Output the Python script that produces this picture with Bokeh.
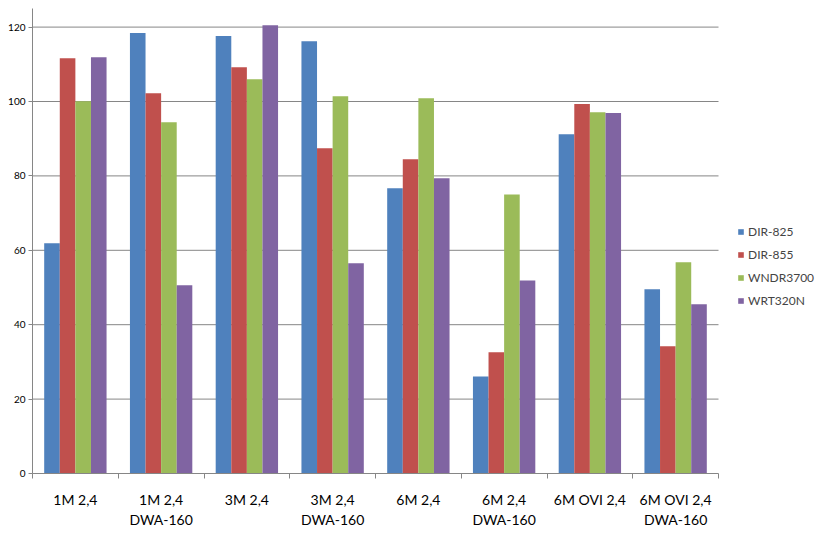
import numpy as np
from bokeh.plotting import figure
from bokeh.models import Range1d, FixedTicker, Legend, LegendItem
from bokeh.embed import file_html
from bokeh.resources import INLINE

categories = ["1M 2,4", "1M 2,4\nDWA-160", "3M 2,4", "3M 2,4\nDWA-160",
              "6M 2,4", "6M 2,4\nDWA-160", "6M OVI 2,4", "6M OVI 2,4\nDWA-160"]
series_names = ["DIR-825", "DIR-855", "WNDR3700", "WRT320N"]
dir825 = [61.9, 118.4, 117.6, 116.2, 76.7, 26.1, 91.2, 49.5]
dir855 = [111.6, 102.2, 109.2, 87.4, 84.5, 32.6, 99.3, 34.2]
wndr3700 = [100.1, 94.4, 106.0, 101.4, 100.9, 75.0, 97.1, 56.8]
wrt320n = [111.9, 50.6, 120.5, 56.5, 79.4, 51.9, 96.9, 45.5]
y_ticks = [0, 20, 40, 60, 80, 100, 120]

series = [dir825, dir855, wndr3700, wrt320n]
colors = ["#4F81BD", "#C0504D", "#9BBB59", "#8064A2"]
FONT = "Lato"
GRID = "#868686"

n = len(categories)
W, H = 817, 535
LEFT, TOP, BOTTOM = 32, 8, 62
FW = W - LEFT
CAT_PX = 85.75
x_end = FW / CAT_PX

p = figure(width=W, height=H, output_backend="svg", toolbar_location=None,
           x_range=Range1d(0, x_end), y_range=Range1d(0, 125),
           min_border_left=LEFT, min_border_right=0, min_border_top=TOP,
           min_border_bottom=BOTTOM)
p.outline_line_color = None
p.background_fill_color = "white"
p.border_fill_color = "white"

# horizontal gridlines only over the category area
p.xgrid.grid_line_color = None
p.ygrid.grid_line_color = None
gy = [t for t in y_ticks if t > 0]
p.segment(x0=[0] * len(gy), x1=[n] * len(gy), y0=gy, y1=gy,
          line_color=GRID, line_width=1, level="underlay")

bw = 1 / 5.5
centers = np.arange(n) + 0.5
renderers = []
for i, (vals, col) in enumerate(zip(series, colors)):
    off = (i - 1.5) * bw
    r = p.vbar(x=centers + off, top=vals, bottom=0, width=bw,
               fill_color=col, line_color=None)
    renderers.append(r)

# x axis: labels at centers, ticks at boundaries
p.xaxis.bounds = (0, n)
p.xaxis.ticker = FixedTicker(ticks=list(centers), minor_ticks=list(range(n + 1)))
p.xaxis.major_label_overrides = {float(c): lab for c, lab in zip(centers, categories)}
p.xaxis.major_tick_out = 0
p.xaxis.major_tick_in = 0
p.xaxis.minor_tick_out = 5
p.xaxis.minor_tick_in = 0
p.xaxis.minor_tick_line_color = GRID
p.xaxis.axis_line_color = GRID
p.xaxis.major_label_standoff = 12
p.xaxis.major_label_text_font = FONT
p.xaxis.major_label_text_font_size = "14px"
p.xaxis.major_label_text_color = "black"
p.xaxis.major_label_text_line_height = 1.2

p.yaxis.ticker = FixedTicker(ticks=y_ticks)
p.yaxis.minor_tick_line_color = None
p.yaxis.major_tick_out = 4
p.yaxis.major_tick_in = 0
p.yaxis.major_tick_line_color = GRID
p.yaxis.axis_line_color = GRID
p.yaxis.major_label_standoff = 3
p.yaxis.major_label_text_font = FONT
p.yaxis.major_label_text_font_size = "10px"
p.yaxis.major_label_text_color = "black"

legend = Legend(items=[LegendItem(label=nm, renderers=[r]) for nm, r in zip(series_names, renderers)],
                location=(705, 163), glyph_width=7, glyph_height=7, label_standoff=4,
                label_height=20, spacing=3, padding=0, margin=0,
                label_text_font=FONT, label_text_font_size="12px",
                border_line_color=None, background_fill_alpha=0)
p.add_layout(legend, "center")

open("out.html", "w").write(file_html(p, INLINE))
